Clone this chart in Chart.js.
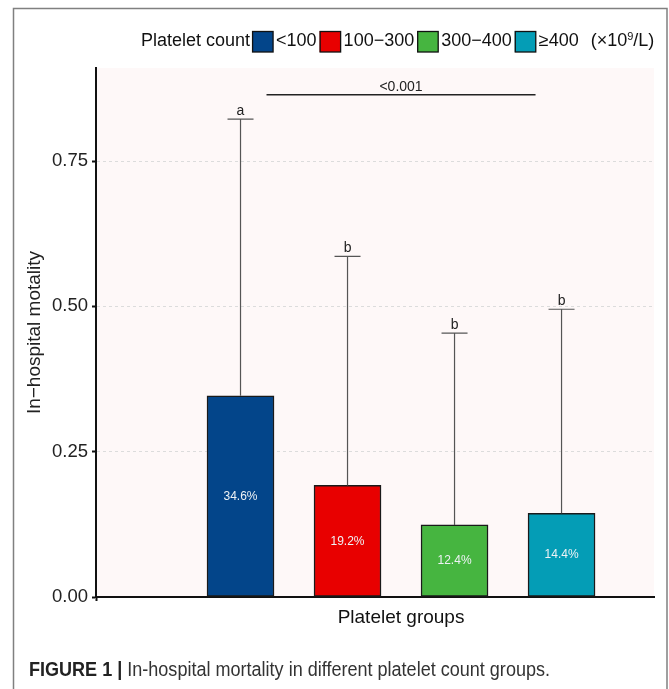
<!DOCTYPE html>
<html>
<head>
<meta charset="utf-8">
<script src="https://cdn.jsdelivr.net/npm/chart.js@4/dist/chart.umd.min.js"></script>
<style>
  html, body { margin: 0; padding: 0; background: #fff; }
  #wrap { width: 669px; height: 689px; position: relative; }
</style>
</head>
<body>
<div id="wrap"><canvas id="c" width="669" height="689"></canvas></div>
<script>
// ---- data ----
const categories = ['<100', '100\u2212300', '300\u2212400', '\u2265400'];
const mortality = [0.346, 0.192, 0.124, 0.144];
const errorUpper = [0.822, 0.586, 0.454, 0.495];
const letters = ['a', 'b', 'b', 'b'];
const barColors = ['#03458A', '#E80000', '#46B540', '#049DB6'];
const yTicks = [0, 0.25, 0.5, 0.75];
const bracketLabel = '<0.001';
const bracketLevel = 0.864;
const bracketGroups = [0, 3];
const legendTitle = 'Platelet count';
const legendUnit = ['(\u00d710', '9', '/L)'];
const xTitle = 'Platelet groups';
const yTitle = 'In\u2212hospital motality';
const captionBold = 'FIGURE 1 | ';
const captionText = 'In-hospital mortality in different platelet count groups.';

const FONT = 'Liberation Sans, Arial, sans-serif';
const positions = categories.map((_, i) => i + 1);
const points = positions.map((x, i) => ({ x: x, y: mortality[i] }));

const decor = {
  id: 'decor',
  beforeDraw(chart) {
    const { ctx, chartArea: a } = chart;
    ctx.save();
    ctx.fillStyle = '#fff';
    ctx.fillRect(0, 0, chart.width, chart.height);
    // outer frame
    ctx.strokeStyle = '#808080';
    ctx.lineWidth = 1.5;
    ctx.beginPath();
    ctx.moveTo(13.5, 689);
    ctx.lineTo(13.5, 8.5);
    ctx.lineTo(667, 8.5);
    ctx.lineTo(667, 689);
    ctx.stroke();
    // panel background
    ctx.fillStyle = '#FEF8F8';
    ctx.fillRect(a.left, a.top, a.right - a.left, a.bottom - a.top);
    ctx.restore();
  },
  afterDatasetsDraw(chart) {
    const { ctx } = chart;
    const ys = chart.scales.y;
    const meta = chart.getDatasetMeta(0);
    ctx.save();
    // error bars
    meta.data.forEach((bar, i) => {
      const cx = bar.x;
      const yTop = ys.getPixelForValue(errorUpper[i]);
      ctx.strokeStyle = '#555';
      ctx.lineWidth = 1.2;
      ctx.beginPath();
      ctx.moveTo(cx, bar.y);
      ctx.lineTo(cx, yTop);
      ctx.moveTo(cx - 13, yTop);
      ctx.lineTo(cx + 13, yTop);
      ctx.stroke();
      ctx.fillStyle = '#222';
      ctx.font = '14px ' + FONT;
      ctx.textAlign = 'center';
      ctx.textBaseline = 'alphabetic';
      ctx.fillText(letters[i], cx, yTop - 4);
      // value label in bar middle
      ctx.fillStyle = '#EEF2F5';
      ctx.font = '12px ' + FONT;
      ctx.textBaseline = 'middle';
      ctx.fillText((mortality[i] * 100).toFixed(1) + '%', cx, ys.getPixelForValue(mortality[i] / 2));
    });
    // significance bracket
    const b1 = meta.data[bracketGroups[0]].x + 26;
    const b2 = meta.data[bracketGroups[1]].x - 26;
    const by = ys.getPixelForValue(bracketLevel);
    ctx.strokeStyle = '#222';
    ctx.lineWidth = 1.5;
    ctx.beginPath();
    ctx.moveTo(b1, by);
    ctx.lineTo(b2, by);
    ctx.stroke();
    ctx.fillStyle = '#222';
    ctx.font = '14px ' + FONT;
    ctx.textAlign = 'center';
    ctx.textBaseline = 'alphabetic';
    ctx.fillText(bracketLabel, (b1 + b2) / 2, by - 4);
    ctx.restore();
  },
  afterDraw(chart) {
    const { ctx } = chart;
    ctx.save();
    // legend
    let x = 141;
    const cy = 41.5;
    ctx.font = '18px ' + FONT;
    ctx.textBaseline = 'middle';
    ctx.textAlign = 'left';
    ctx.fillStyle = '#111';
    ctx.fillText(legendTitle, x, cy);
    x += ctx.measureText(legendTitle).width + 2;
    categories.forEach((c, i) => {
      ctx.fillStyle = barColors[i];
      ctx.fillRect(x, cy - 10.5, 21, 21);
      ctx.strokeStyle = '#111';
      ctx.lineWidth = 1.3;
      ctx.strokeRect(x + 0.5, cy - 10, 20.5, 20.5);
      x += 21 + 3;
      ctx.fillStyle = '#111';
      ctx.font = '18px ' + FONT;
      ctx.fillText(c, x, cy);
      x += ctx.measureText(c).width + 3;
    });
    x += 9;
    ctx.fillText(legendUnit[0], x, cy);
    x += ctx.measureText(legendUnit[0]).width;
    ctx.font = '11px ' + FONT;
    ctx.fillText(legendUnit[1], x, cy - 5);
    x += ctx.measureText(legendUnit[1]).width;
    ctx.font = '18px ' + FONT;
    ctx.fillText(legendUnit[2], x, cy);
    // caption (condensed face)
    const capY = 671;
    const boldFont = 'bold 19.5px ' + FONT;
    const normFont = '19.5px ' + FONT;
    ctx.font = boldFont;
    const wb = ctx.measureText(captionBold).width;
    ctx.font = normFont;
    const wn = ctx.measureText(captionText).width;
    const sx = 521 / (wb + wn);
    ctx.translate(29, capY);
    ctx.scale(sx, 1);
    ctx.fillStyle = '#222';
    ctx.font = boldFont;
    ctx.fillText(captionBold, 0, 0);
    ctx.fillStyle = '#333';
    ctx.font = normFont;
    ctx.fillText(captionText, wb, 0);
    ctx.restore();
  }
};

new Chart(document.getElementById('c'), {
  type: 'bar',
  data: {
    datasets: [{
      label: 'In-hospital mortality',
      data: points,
      backgroundColor: barColors,
      borderColor: '#1a1a1a',
      borderWidth: 1.5,
      borderSkipped: false,
      barThickness: 67
    }]
  },
  options: {
    responsive: false,
    animation: false,
    devicePixelRatio: 1,
    layout: { padding: { top: 68, right: 15, left: 0, bottom: 0 } },
    plugins: { legend: { display: false }, tooltip: { enabled: false } },
    scales: {
      x: {
        type: 'linear',
        min: -0.3505,
        max: 4.864,
        offset: false,
        afterBuildTicks(s) { s.ticks = [{ value: (positions[0] + positions[positions.length - 1]) / 2 }]; },
        afterFit(s) { s.height = 92; },
        ticks: {
          callback: () => xTitle,
          color: '#111',
          font: { size: 19, family: FONT },
          padding: 5,
          maxRotation: 0,
          autoSkip: false
        },
        grid: { drawOnChartArea: false, tickLength: 4, tickColor: '#111', tickWidth: 2 },
        border: { color: '#111', width: 2 }
      },
      y: {
        min: 0,
        max: 0.91,
        afterBuildTicks(s) { s.ticks = yTicks.map(v => ({ value: v })); },
        afterFit(s) { s.width = 96; },
        ticks: {
          callback: v => Number(v).toFixed(2),
          color: '#222',
          font: { size: 18.5, family: FONT },
          padding: 4
        },
        grid: {
          color: ctx => (ctx.tick && ctx.tick.value === 0 ? 'rgba(0,0,0,0)' : '#DCDCDC'),
          lineWidth: 1,
          tickLength: 4,
          tickColor: '#111',
          tickWidth: 2
        },
        border: { color: '#111', width: 2, dash: [3, 3] },
        title: {
          display: true,
          text: yTitle,
          color: '#222',
          font: { size: 19, family: FONT },
          padding: { top: 23, bottom: 0 }
        }
      }
    }
  },
  plugins: [decor]
});
</script>
</body>
</html>
